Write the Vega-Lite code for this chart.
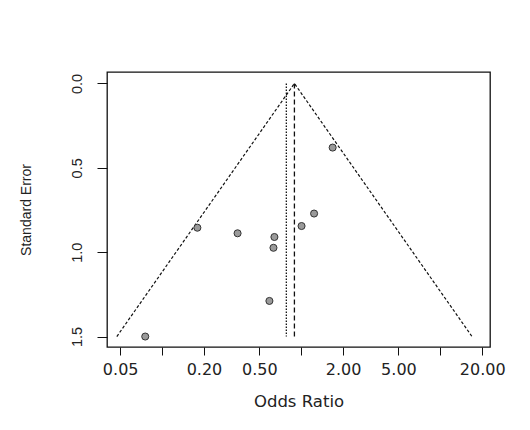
{
  "$schema": "https://vega.github.io/schema/vega-lite/v6.json",
  "width": 383,
  "height": 275,
  "autosize": {"type": "none"},
  "padding": {"left": 107, "top": 72, "right": 40, "bottom": 83},
  "background": "white",
  "config": {
    "view": {"stroke": "#111", "strokeWidth": 1.3},
    "axis": {"grid": false, "domain": false, "tickColor": "#111", "labelColor": "#222", "titleColor": "#222", "titleFontWeight": "normal"}
  },
  "datasets": {
    "studies": [
      {"or": 1.683, "se": 0.380},
      {"or": 1.238, "se": 0.771},
      {"or": 1.006, "se": 0.845},
      {"or": 0.1794, "se": 0.855},
      {"or": 0.349, "se": 0.888},
      {"or": 0.642, "se": 0.910},
      {"or": 0.632, "se": 0.974},
      {"or": 0.591, "se": 1.289},
      {"or": 0.0757, "se": 1.500}
    ],
    "funnel": [
      {"order": 1, "or": 0.0473, "se": 1.5},
      {"order": 2, "or": 0.894, "se": 0.0},
      {"order": 3, "or": 16.9, "se": 1.5}
    ],
    "refs": [
      {"kind": "dashed", "or": 0.894, "se0": 0, "se1": 1.5},
      {"kind": "dotted", "or": 0.782, "se0": 0, "se1": 1.5}
    ]
  },
  "layer": [
    {
      "data": {"name": "funnel"},
      "mark": {"type": "line", "color": "#111", "strokeWidth": 1.2, "strokeDash": [3, 2]},
      "encoding": {
        "x": {
          "field": "or", "type": "quantitative",
          "scale": {"type": "log", "domain": [0.0402, 22.76], "nice": false, "zero": false},
          "axis": {
            "title": "Odds Ratio",
            "values": [0.05, 0.1, 0.2, 0.5, 1, 2, 5, 10, 20],
            "format": ".2f",
            "labelExpr": "datum.value == 0.1 || datum.value == 1 || datum.value == 10 ? '' : datum.label",
            "labelOverlap": false,
            "labelFlush": false,
            "tickSize": 8,
            "labelPadding": 6,
            "labelFont": "DejaVu Sans",
            "labelFontSize": 16,
            "titleFont": "DejaVu Sans",
            "titleFontSize": 16.5,
            "titlePadding": 16
          }
        },
        "y": {
          "field": "se", "type": "quantitative",
          "scale": {"domain": [-0.068, 1.562], "reverse": true, "nice": false, "zero": false},
          "axis": {
            "title": "Standard Error",
            "values": [0, 0.5, 1, 1.5],
            "format": ".1f",
            "labelAngle": -90,
            "labelAlign": "center",
            "labelBaseline": "bottom",
            "tickSize": 10,
            "labelPadding": 13,
            "labelFont": "Liberation Sans",
            "labelFontSize": 14.5,
            "titleFont": "Liberation Sans",
            "titleFontSize": 14,
            "titlePadding": 36
          }
        },
        "order": {"field": "order"}
      }
    },
    {
      "data": {"name": "refs"},
      "transform": [{"filter": "datum.kind == 'dashed'"}],
      "mark": {"type": "rule", "color": "#111", "strokeWidth": 1.3, "strokeDash": [5, 3]},
      "encoding": {
        "x": {"field": "or", "type": "quantitative"},
        "y": {"field": "se0", "type": "quantitative"},
        "y2": {"field": "se1"}
      }
    },
    {
      "data": {"name": "refs"},
      "transform": [{"filter": "datum.kind == 'dotted'"}],
      "mark": {"type": "rule", "color": "#111", "strokeWidth": 1.3, "strokeDash": [1.5, 1.5]},
      "encoding": {
        "x": {"field": "or", "type": "quantitative"},
        "y": {"field": "se0", "type": "quantitative"},
        "y2": {"field": "se1"}
      }
    },
    {
      "data": {"name": "studies"},
      "mark": {"type": "point", "shape": "circle", "filled": true, "fill": "#9a9a9a", "stroke": "#333", "strokeWidth": 1, "size": 50, "opacity": 1},
      "encoding": {
        "x": {"field": "or", "type": "quantitative"},
        "y": {"field": "se", "type": "quantitative"}
      }
    }
  ]
}
